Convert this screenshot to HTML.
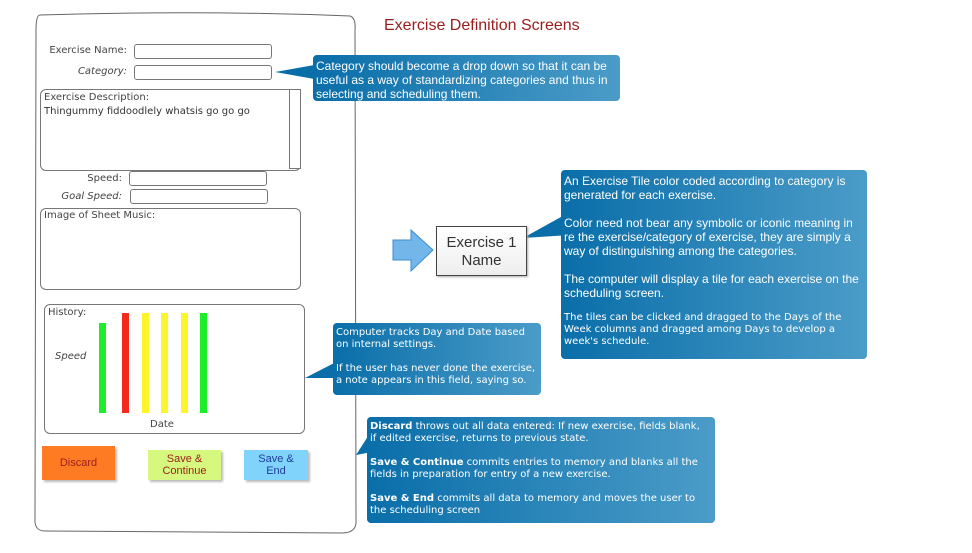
<!DOCTYPE html>
<html><head><meta charset="utf-8"><style>
body{margin:0;width:972px;height:553px;background:#fff;position:relative;overflow:hidden;font-family:"Liberation Sans",sans-serif}
.a{position:absolute}
.lbl{position:absolute;font-size:10px;color:#444;font-family:"DejaVu Sans",sans-serif;}
.inp{position:absolute;border:1px solid #777;border-radius:3px;background:#fff}
.box{position:absolute;border:1px solid #777;border-radius:6px}
.co{position:absolute;background:linear-gradient(to right,#0a6ea9,#4b9cc8);color:#fff;border-radius:4px;font-size:10px;line-height:12px;padding:4px 3px;box-sizing:border-box;font-family:"DejaVu Sans",sans-serif}
.btn{position:absolute;text-align:center;font-size:11px;line-height:12px;display:flex;align-items:center;justify-content:center;box-shadow:2px 2px 2px #bbb}
</style></head><body>
<svg class="a" style="left:0;top:0" width="972" height="553">
<path d="M40 15 Q200 10 350 16 Q356 18 355 30 L356 520 Q357 533 342 533 L45 531 Q34 531 35 518 L36 30 Q36 15 40 15Z" fill="none" stroke="#666" stroke-width="1"/>
<polygon points="275,72 320,64 320,80" fill="#0a6ea9"/>
<polygon points="523,238 570,212 570,235" fill="#0a6ea9"/>
<polygon points="305,378 340,360 340,378" fill="#0a6ea9"/>
<polygon points="356,455 372,430 372,452" fill="#0a6ea9"/>
<polygon points="393,240 411,240 411,230 433,250 411,271 411,260 393,260" fill="#72b6ea" stroke="#3a8fd0"/>
</svg>
<div class="a" style="left:384px;top:17px;font-size:16px;color:#9b1c1c">Exercise Definition Screens</div>
<div class="lbl" style="left:40px;width:87px;text-align:right;top:45px">Exercise Name:</div>
<div class="inp" style="left:134px;top:44px;width:136px;height:13px"></div>
<div class="lbl" style="left:40px;width:87px;text-align:right;top:66px;font-style:italic">Category:</div>
<div class="inp" style="left:134px;top:65px;width:136px;height:13px"></div>
<div class="box" style="left:40px;top:89px;width:259px;height:80px"></div>
<div class="a" style="left:289px;top:89px;width:10px;height:78px;border:1px solid #777;background:#fff"></div>
<div class="lbl" style="left:44px;top:92px;font-size:10px">Exercise Description:</div>
<div class="lbl" style="left:44px;top:106px;font-size:10px;color:#333">Thingummy fiddoodlely whatsis go go go</div>
<div class="lbl" style="left:40px;width:82px;text-align:right;top:173px">Speed:</div>
<div class="inp" style="left:129px;top:171px;width:136px;height:13px"></div>
<div class="lbl" style="left:40px;width:82px;text-align:right;top:191px;font-style:italic">Goal Speed:</div>
<div class="inp" style="left:130px;top:189px;width:136px;height:13px"></div>
<div class="box" style="left:40px;top:208px;width:259px;height:80px"></div>
<div class="lbl" style="left:44px;top:210px;font-size:10px">Image of Sheet Music:</div>
<div class="box" style="left:44px;top:304px;width:259px;height:128px"></div>
<div class="lbl" style="left:48px;top:307px;font-size:10px">History:</div>
<div class="lbl" style="left:55px;top:351px;font-size:10px;font-style:italic">Speed</div>
<div class="lbl" style="left:150px;top:419px;font-size:10px">Date</div>
<div class="a" style="left:99px;top:323px;width:7px;height:90px;background:#1eee2a"></div>
<div class="a" style="left:122px;top:313px;width:7px;height:100px;background:#f52a1e"></div>
<div class="a" style="left:142px;top:313px;width:7px;height:100px;background:#fcf52c"></div>
<div class="a" style="left:161px;top:313px;width:7px;height:100px;background:#fcf52c"></div>
<div class="a" style="left:181px;top:313px;width:7px;height:100px;background:#fcf52c"></div>
<div class="a" style="left:200px;top:313px;width:7px;height:100px;background:#1eee2a"></div>
<div class="btn" style="left:42px;top:446px;width:73px;height:34px;background:#fe7b24;color:#9b1c1c">Discard</div>
<div class="btn" style="left:148px;top:450px;width:73px;height:30px;background:#d6f87f;color:#9b1c1c">Save &amp;<br>Continue</div>
<div class="btn" style="left:244px;top:450px;width:64px;height:30px;background:#80d4fc;color:#1c3c9b">Save &amp;<br>End</div>
<div class="co" style="left:313px;top:55px;width:307px;height:46px;font-family:'Liberation Sans',sans-serif;font-size:12px;line-height:14px">Category should become a drop down so that it can be useful as a way of standardizing categories and thus in selecting and scheduling them.</div>
<div class="a" style="left:436px;top:226px;width:91px;height:50px;border:1px solid #444;box-sizing:border-box;background:linear-gradient(#fff,#eee);text-align:center;font-size:15px;line-height:18px;color:#333;padding-top:7px;box-shadow:1px 1px 2px #aaa">Exercise 1<br>Name</div>
<div class="co" style="left:561px;top:170px;width:306px;height:189px;font-family:'Liberation Sans',sans-serif;font-size:12px;line-height:14px">An Exercise Tile color coded according to category is generated for each exercise.<br><br>Color need not bear any symbolic or iconic meaning in re the exercise/category of exercise, they are simply a way of distinguishing among the categories.<br><br>The computer will display a tile for each exercise on the scheduling screen.<div style="font-family:'DejaVu Sans',sans-serif;font-size:10px;line-height:12px;margin-top:12px">The tiles can be clicked and dragged to the Days of the Week columns and dragged among Days to develop a week's schedule.</div></div>
<div class="co" style="left:333px;top:323px;width:208px;height:72px">Computer tracks Day and Date based on internal settings.<br><br>If the user has never done the exercise, a note appears in this field, saying so.</div>
<div class="co" style="left:367px;top:417px;width:348px;height:106px;padding-right:10px"><b>Discard</b> throws out all data entered: If new exercise, fields blank, if edited exercise, returns to previous state.<br><br><b>Save &amp; Continue</b> commits entries to memory and blanks all the fields in preparation for entry of a new exercise.<br><br><b>Save &amp; End</b> commits all data to memory and moves the user to the scheduling screen</div>
</body></html>
